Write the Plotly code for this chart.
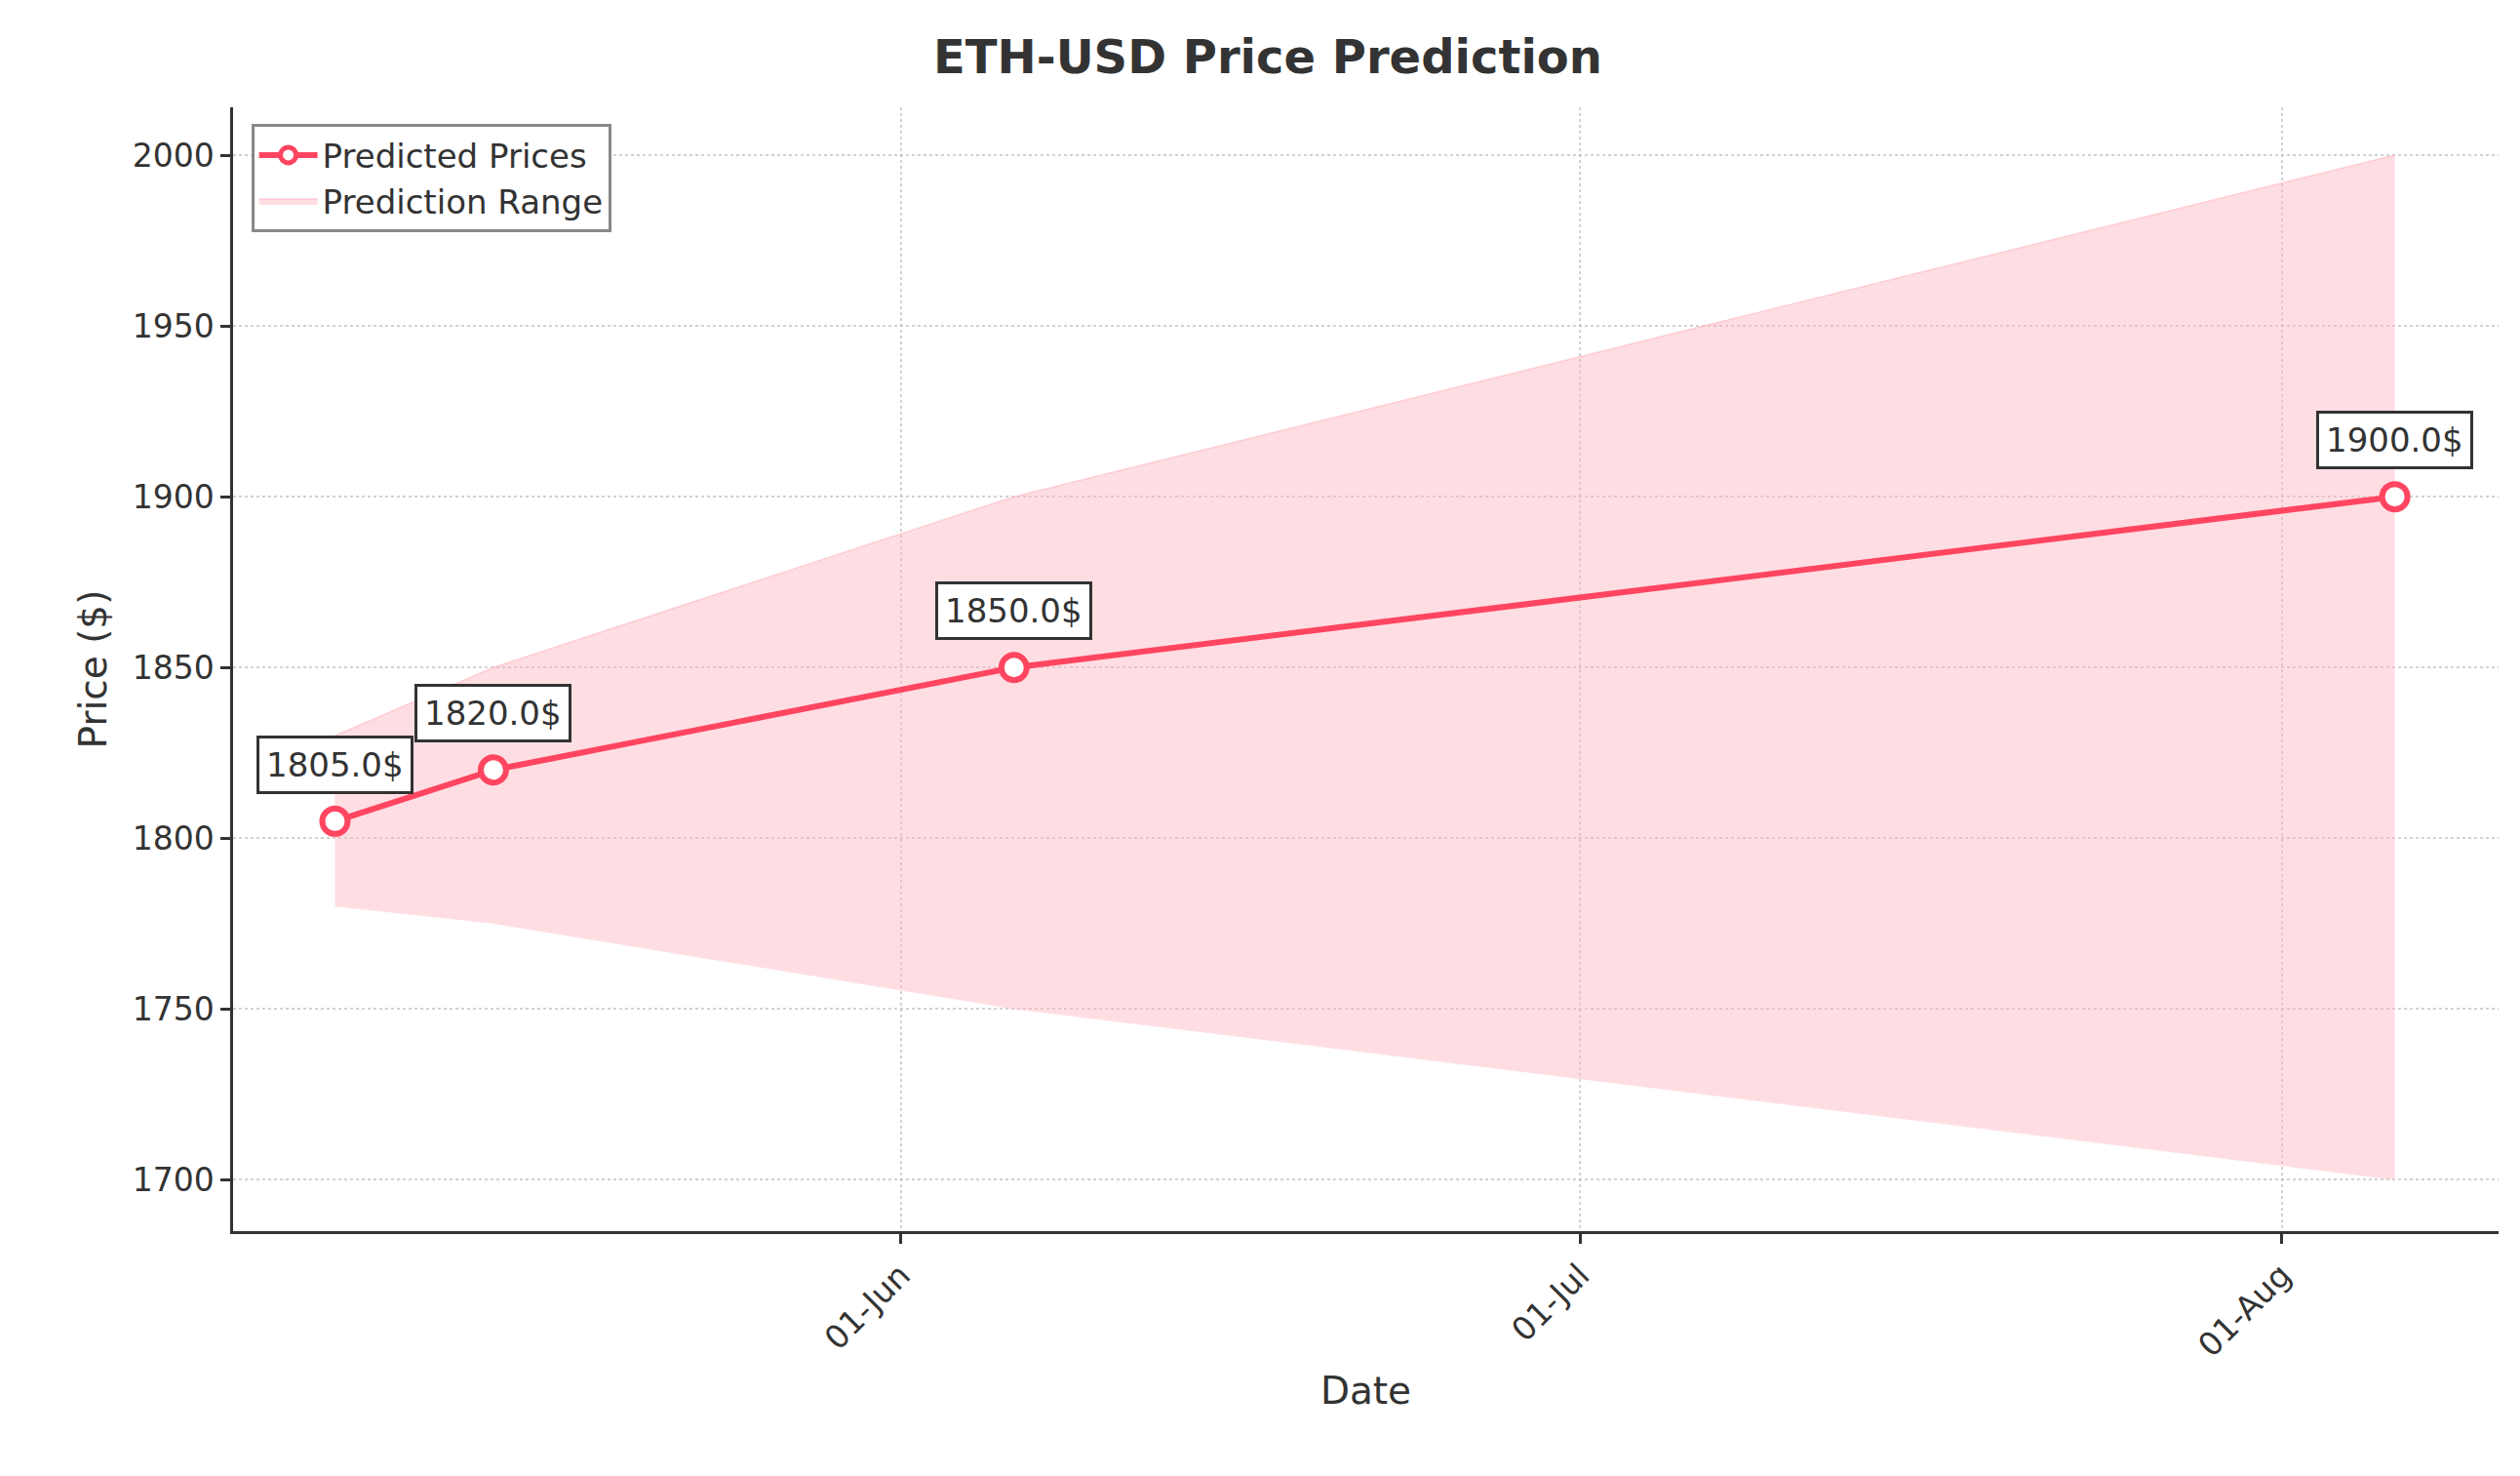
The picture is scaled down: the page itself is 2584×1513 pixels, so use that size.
import plotly.graph_objects as go

dates = ["2023-05-07", "2023-05-14", "2023-06-06", "2023-08-06"]
prices = [1805.0, 1820.0, 1850.0, 1900.0]
low = [1780, 1775, 1750, 1700]
high = [1830, 1850, 1900, 2000]

red = "#ff4560"
fig = go.Figure()
fig.add_trace(go.Scatter(x=dates, y=low, mode="lines", line=dict(width=0), showlegend=False, hoverinfo="skip"))
fig.add_trace(go.Scatter(x=dates, y=high, mode="lines", fill="tonexty", fillcolor="rgba(255,182,193,0.45)",
                         line=dict(width=1.5, color="rgba(255,182,193,0.6)"), name="Prediction Range"))
fig.add_trace(go.Scatter(x=dates, y=prices, mode="lines+markers", name="Predicted Prices",
                         line=dict(color=red, width=6),
                         marker=dict(size=26, color="white", line=dict(color=red, width=6))))

for d, p in zip(dates, prices):
    fig.add_annotation(x=d, y=p, text=f"{p}$", showarrow=False, yshift=58,
                       font=dict(size=34, color="#333"), bgcolor="white",
                       bordercolor="#333", borderwidth=3, borderpad=7)

axis = dict(showline=True, linecolor="#333", linewidth=2.5, ticks="outside", ticklen=10, tickwidth=2.5,
            tickcolor="#333", tickfont=dict(size=33, color="#333"), showgrid=True,
            gridcolor="rgba(180,180,180,0.6)", griddash="dot", gridwidth=2, zeroline=False)
fig.update_layout(
    width=2584, height=1513, plot_bgcolor="white", paper_bgcolor="white",
    font=dict(family="DejaVu Sans", color="#333"),
    margin=dict(l=231, r=30, t=102, b=259),
    title=dict(text="<b>ETH-USD Price Prediction</b>", x=0.5, xanchor="center", y=0.978, font=dict(size=48)),
    xaxis=dict(axis, range=["2023-05-02 12:00", "2023-08-10 14:00"],
               tickvals=["2023-06-01", "2023-07-01", "2023-08-01"], tickformat="%d-%b", tickangle=-45,
               title=dict(text="Date", font=dict(size=39))),
    yaxis=dict(axis, range=[1685, 2014], dtick=50, title=dict(text="Price ($)", font=dict(size=39))),
    legend=dict(x=0.008, y=0.985, xanchor="left", yanchor="top", bgcolor="white",
                bordercolor="#888", borderwidth=3, font=dict(size=34), traceorder="reversed",
                itemwidth=60),
)
fig.write_html("out.html")
